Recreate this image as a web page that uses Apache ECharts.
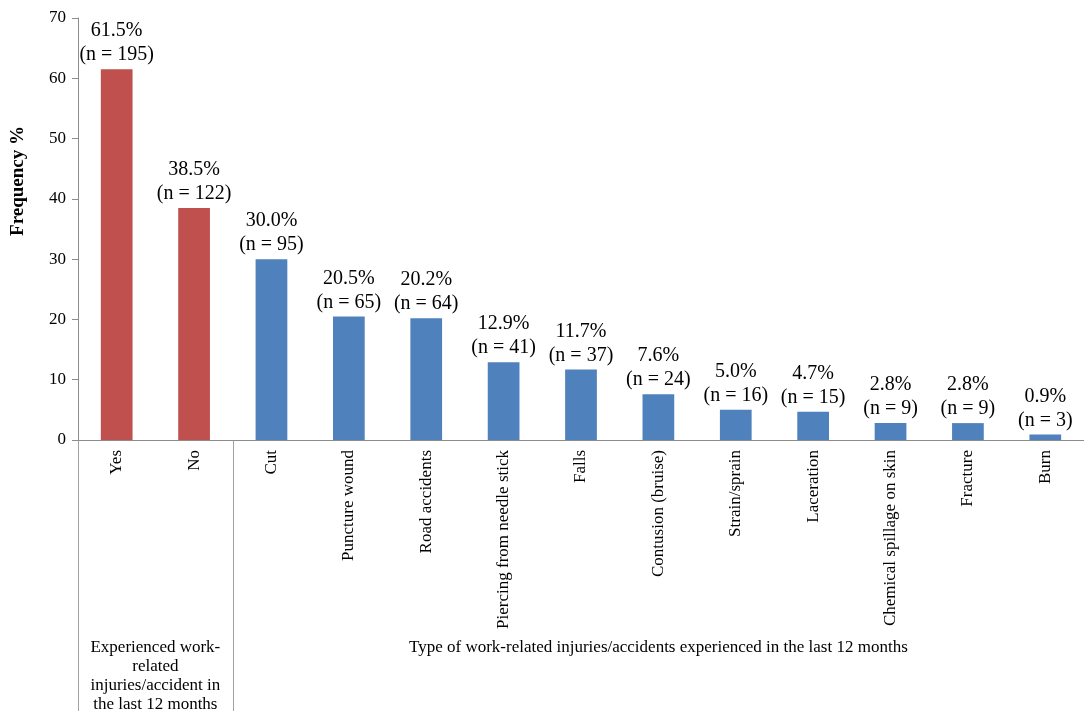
<!DOCTYPE html>
<html>
<head>
<meta charset="utf-8">
<script src="https://cdn.jsdelivr.net/npm/echarts@6/dist/echarts.min.js"></script>
<style>
html,body{margin:0;padding:0;background:#fff;}
#chart{width:1084px;height:711px;}
</style>
</head>
<body>
<div id="chart"></div>
<script>
var categories = ['Yes','No','Cut','Puncture wound','Road accidents','Piercing from needle stick','Falls','Contusion (bruise)','Strain/sprain','Laceration','Chemical spillage on skin','Fracture','Burn'];
var values = [61.5,38.5,30.0,20.5,20.2,12.9,11.7,7.6,5.0,4.7,2.8,2.8,0.9];
var counts = [195,122,95,65,64,41,37,24,16,15,9,9,3];
var groupNames = ['Experienced work-\nrelated\ninjuries/accident in\nthe last 12 months','Type of work-related injuries/accidents experienced in the last 12 months'];
var groupOf = [0,0,1,1,1,1,1,1,1,1,1,1,1];
var yTicks = [0,10,20,30,40,50,60,70];
var groupColors = ['#C0504D','#4F81BD'];

var FONT = '"Liberation Serif","Times New Roman",serif';
var chart = echarts.init(document.getElementById('chart'));

var option = {
  animation:false,
  backgroundColor:'#ffffff',
  grid:{left:78, top:18, width:1014, height:422, containLabel:false},
  xAxis:{
    type:'category',
    data:categories,
    boundaryGap:true,
    axisLine:{show:true, lineStyle:{color:'#8c8c8c', width:1}},
    axisTick:{show:false},
    axisLabel:{rotate:90, margin:10, fontFamily:FONT, fontSize:17, color:'#000', interval:0}
  },
  yAxis:{
    type:'value',
    min:yTicks[0], max:yTicks[yTicks.length-1], interval:10,
    axisLine:{show:true, lineStyle:{color:'#8c8c8c', width:1}},
    axisTick:{show:true, length:6, lineStyle:{color:'#8c8c8c'}},
    splitLine:{show:false},
    axisLabel:{fontFamily:FONT, fontSize:17, color:'#000', margin:12}
  },
  series:[{
    type:'bar',
    data:values.map(function(v,i){return {value:v, itemStyle:{color:groupColors[groupOf[i]]}};}),
    barWidth:'41%',
    label:{
      show:true, position:'top', distance:2,
      fontFamily:FONT, fontSize:20, lineHeight:24, color:'#000', align:'center',
      formatter:function(p){return values[p.dataIndex].toFixed(1)+'%\n(n = '+counts[p.dataIndex]+')';}
    }
  }]
};
chart.setOption(option);

function drawGroups(){
  var c0 = chart.convertToPixel({xAxisIndex:0}, categories[0]);
  var c1 = chart.convertToPixel({xAxisIndex:0}, categories[1]);
  var band = c1 - c0;
  var y0 = chart.convertToPixel({yAxisIndex:0}, 0);
  var H = 711;
  var els = [];
  var starts = [], ends = [];
  for (var g=0; g<groupNames.length; g++){
    var idx = [];
    for (var i=0;i<groupOf.length;i++) if (groupOf[i]===g) idx.push(i);
    var first = chart.convertToPixel({xAxisIndex:0}, categories[idx[0]]) - band/2;
    var last = chart.convertToPixel({xAxisIndex:0}, categories[idx[idx.length-1]]) + band/2;
    starts.push(first); ends.push(last);
  }
  var bounds = [starts[0]];
  for (var g=0; g<ends.length; g++) bounds.push(ends[g]);
  bounds.forEach(function(x){
    els.push({type:'line', shape:{x1:Math.round(x)+0.5, y1:y0, x2:Math.round(x)+0.5, y2:H}, style:{stroke:'#a0a0a0', lineWidth:1}, silent:true});
  });
  els.push({type:'text', x:(starts[0]+ends[0])/2, y:638, style:{text:groupNames[0], font:'17px '+FONT, fill:'#000', align:'center', verticalAlign:'top', lineHeight:19}});
  els.push({type:'text', x:(starts[1]+ends[1])/2, y:638, style:{text:groupNames[1], font:'17px '+FONT, fill:'#000', align:'center', verticalAlign:'top', lineHeight:19}});
  els.push({type:'text', x:18, y:181, rotation:Math.PI/2, style:{text:'Frequency %', font:'bold 19px '+FONT, fill:'#000', align:'center', verticalAlign:'middle'}});
  chart.setOption({graphic:{elements:els}});
}
drawGroups();
</script>
</body>
</html>
